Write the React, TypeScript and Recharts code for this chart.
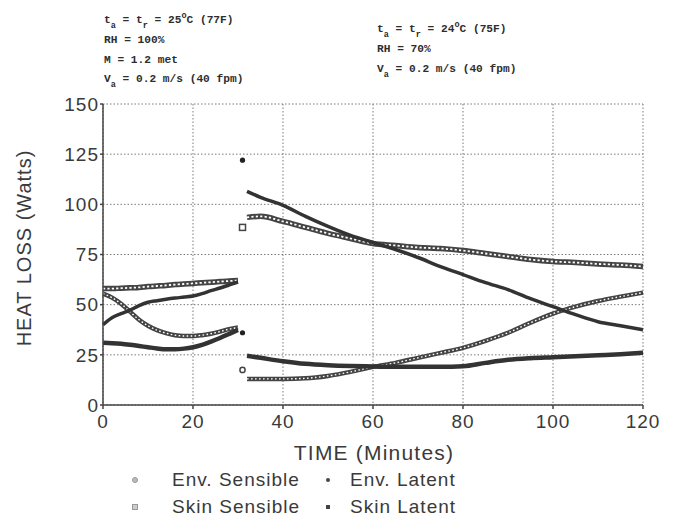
import React from 'react'
import { ComposedChart, Line, Scatter, XAxis, YAxis, CartesianGrid } from 'recharts'

const INK = '#3a3a3a'
const GRID = '#7a7a7a'
const SANS = '"Liberation Sans", Arial, sans-serif'
const MONO = '"Liberation Mono", "DejaVu Sans Mono", monospace'

// time (minutes) – first exposure (25C, 100% RH) then second (24C, 70% RH)
const T1 = [0, 2, 4, 6, 8, 10, 12, 14, 16, 18, 20, 22, 24, 26, 28, 30]
const T2 = [32, 35, 40, 45, 50, 55, 60, 65, 70, 75, 80, 85, 90, 95, 100, 105, 110, 115, 120]

// heat loss, W
const ENV_SENS_1 = [55.5, 53.5, 50.5, 46.5, 42.5, 39.5, 37.3, 35.8, 34.8, 34.4, 34.4, 34.8, 35.5, 36.6, 37.8, 38.6]
const ENV_LAT_1 = [40, 43.5, 45.5, 47.3, 49.5, 51.2, 52, 52.7, 53.3, 53.8, 54.3, 55.5, 57, 58.3, 59.8, 61.3]
const SKIN_SENS_1 = [58, 58, 58.2, 58.4, 58.6, 59, 59.3, 59.6, 60, 60.3, 60.6, 60.9, 61.2, 61.5, 61.8, 62]
const SKIN_LAT_1 = [31, 30.8, 30.5, 30, 29.4, 28.8, 28.2, 27.8, 27.8, 28.1, 28.8, 30, 31.6, 33.4, 35.4, 37.4]

const ENV_SENS_2 = [13, 13, 13, 13.3, 14.5, 16.5, 19, 21, 23.5, 26, 28.5, 32, 36, 41, 45.5, 49, 51.8, 54, 56]
const ENV_LAT_2 = [106.5, 103.5, 99.5, 94, 89, 84.5, 81, 77.5, 73.5, 69, 65, 61, 57.5, 53, 49, 45, 41.5, 39.5, 37.5]
const SKIN_SENS_2 = [93.5, 94, 91.5, 88.5, 85.5, 83, 80.5, 79.5, 78.5, 78, 77, 75.5, 74, 72.5, 71.5, 71, 70.3, 69.8, 69]
const SKIN_LAT_2 = [24.5, 23.5, 21.8, 20.5, 19.8, 19.4, 19.2, 19, 19, 19, 19.3, 21, 22.5, 23.3, 23.8, 24.3, 24.8, 25.3, 26]

// single readings at the change of conditions
const JUMP_T = 31
const JUMP_ENV_SENS = 17.5
const JUMP_ENV_LAT = 122
const JUMP_SKIN_SENS = 88.5
const JUMP_SKIN_LAT = 36

const X_TICKS = [0, 20, 40, 60, 80, 100, 120]
const Y_TICKS = [0, 25, 50, 75, 100, 125, 150]

const pts = (ts: number[], vs: number[]) => ts.map((t, i) => ({ t, v: vs[i] }))

const tickStyle = { fontSize: 19, fill: INK, fontFamily: SANS, letterSpacing: 1 }

// chain of hollow markers: thick dark stroke with white dashes punched through it
function chain(key: string, data: { t: number; v: number }[], w: number, hole: number, dash: string) {
  return [
    <Line key={key + 'o'} data={data} dataKey="v" type="monotone" stroke="#444" strokeWidth={w}
      dot={false} activeDot={false} isAnimationActive={false} />,
    <Line key={key + 'i'} data={data} dataKey="v" type="monotone" stroke="#fff" strokeWidth={hole}
      strokeDasharray={dash} dot={false} activeDot={false} isAnimationActive={false} />,
  ]
}

function solid(key: string, data: { t: number; v: number }[], w: number) {
  return <Line key={key} data={data} dataKey="v" type="monotone" stroke="#333" strokeWidth={w}
    dot={false} activeDot={false} isAnimationActive={false} />
}

const OpenCircle = (p: any) => <circle cx={p.cx} cy={p.cy} r={2.6} fill="#fff" stroke="#444" strokeWidth={1.5} />
const OpenSquare = (p: any) => <rect x={p.cx - 3} y={p.cy - 3} width={6} height={6} fill="#fff" stroke="#444" strokeWidth={1.5} />
const Dot = (p: any) => <circle cx={p.cx} cy={p.cy} r={2.6} fill="#222" />

const Sub = ({ c }: { c: string }) => (
  <span style={{ fontSize: 8.5, position: 'relative', top: 5 }}>{c}</span>
)
const Sup = ({ c }: { c: string }) => (
  <span style={{ fontSize: 8.5, position: 'relative', top: -5 }}>{c}</span>
)

function Note({ x, y, children }: { x: number; y: number; children: React.ReactNode }) {
  return (
    <div style={{
      position: 'absolute', left: x, top: y, transform: 'translateY(-50%)', whiteSpace: 'pre',
      fontFamily: MONO, fontWeight: 700, fontSize: 11.2, color: '#2e2e2e',
    }}>{children}</div>
  )
}

function LegendItem({ x, tx, y, icon, label }: { x: number; tx: number; y: number; icon: React.ReactNode; label: string }) {
  return (
    <>
      <svg width={10} height={10} style={{ position: 'absolute', left: x - 5, top: y - 5 }}>{icon}</svg>
      <div style={{
        position: 'absolute', left: tx, top: y, transform: 'translateY(-50%)', whiteSpace: 'nowrap',
        fontFamily: SANS, fontSize: 19, letterSpacing: 1, color: INK,
      }}>{label}</div>
    </>
  )
}

export default function App() {
  return (
    <div style={{ position: 'absolute', left: 0, top: 0, width: 674, height: 523, background: '#fff' }}>
      <ComposedChart width={674} height={523} margin={{ top: 104, right: 31, left: 40, bottom: 88 }}>
        <CartesianGrid stroke={GRID} strokeDasharray="1.5 2" verticalValues={X_TICKS} horizontalValues={Y_TICKS} />
        <XAxis type="number" dataKey="t" domain={[0, 120]} ticks={X_TICKS} height={30}
          stroke="#444" strokeWidth={1.5} tickSize={4} tickMargin={6} tick={tickStyle} />
        <YAxis type="number" dataKey="v" domain={[0, 150]} ticks={Y_TICKS} width={63}
          stroke="#444" strokeWidth={1.5} tickSize={3} tickMargin={1} tick={tickStyle} />

        {chain('ss1', pts(T1, SKIN_SENS_1), 5.5, 1.8, '2.2 2.2')}
        {chain('es1', pts(T1, ENV_SENS_1), 4.5, 1.4, '1.6 2.4')}
        {solid('el1', pts(T1, ENV_LAT_1), 3.5)}
        {solid('sl1', pts(T1, SKIN_LAT_1), 4.5)}

        {chain('ss2', pts(T2, SKIN_SENS_2), 5.5, 1.8, '2.2 2.2')}
        {chain('es2', pts(T2, ENV_SENS_2), 4.5, 1.4, '1.6 2.4')}
        {solid('el2', pts(T2, ENV_LAT_2), 3.5)}
        {solid('sl2', pts(T2, SKIN_LAT_2), 4.5)}

        <Scatter data={[{ t: JUMP_T, v: JUMP_ENV_SENS }]} dataKey="v" shape={OpenCircle} isAnimationActive={false} />
        <Scatter data={[{ t: JUMP_T, v: JUMP_SKIN_SENS }]} dataKey="v" shape={OpenSquare} isAnimationActive={false} />
        <Scatter data={[{ t: JUMP_T, v: JUMP_ENV_LAT }]} dataKey="v" shape={Dot} isAnimationActive={false} />
        <Scatter data={[{ t: JUMP_T, v: JUMP_SKIN_LAT }]} dataKey="v" shape={Dot} isAnimationActive={false} />
      </ComposedChart>

      <Note x={104} y={20}>t<Sub c="a" /> = t<Sub c="r" /> = 25<Sup c="o" />C (77F)</Note>
      <Note x={104} y={40}>RH = 100%</Note>
      <Note x={104} y={60}>M = 1.2 met</Note>
      <Note x={104} y={79}>V<Sub c="a" /> = 0.2 m/s (40 fpm)</Note>

      <Note x={377} y={29}>t<Sub c="a" /> = t<Sub c="r" /> = 24<Sup c="o" />C (75F)</Note>
      <Note x={377} y={49}>RH = 70%</Note>
      <Note x={377} y={69}>V<Sub c="a" /> = 0.2 m/s (40 fpm)</Note>

      <div style={{
        position: 'absolute', left: 24, top: 248, transform: 'translate(-50%, -50%) rotate(-90deg)',
        whiteSpace: 'nowrap', fontFamily: SANS, fontSize: 20, letterSpacing: 1, color: INK,
      }}>HEAT LOSS (Watts)</div>
      <div style={{
        position: 'absolute', left: 374, top: 453, transform: 'translate(-50%, -50%)',
        whiteSpace: 'nowrap', fontFamily: SANS, fontSize: 21, letterSpacing: 1.2, color: INK,
      }}>TIME (Minutes)</div>

      <LegendItem x={135} tx={172} y={480} label="Env. Sensible"
        icon={<circle cx={5} cy={5} r={2.5} fill="#bbb" stroke="#999" strokeWidth={1} />} />
      <LegendItem x={135} tx={172} y={507} label="Skin Sensible"
        icon={<rect x={2.5} y={2.5} width={5} height={5} fill="#ccc" stroke="#999" strokeWidth={1} />} />
      <LegendItem x={328} tx={350} y={480} label="Env. Latent"
        icon={<circle cx={5} cy={5} r={2} fill="#444" />} />
      <LegendItem x={328} tx={350} y={507} label="Skin Latent"
        icon={<rect x={3} y={3} width={4} height={4} fill="#444" />} />
    </div>
  )
}
